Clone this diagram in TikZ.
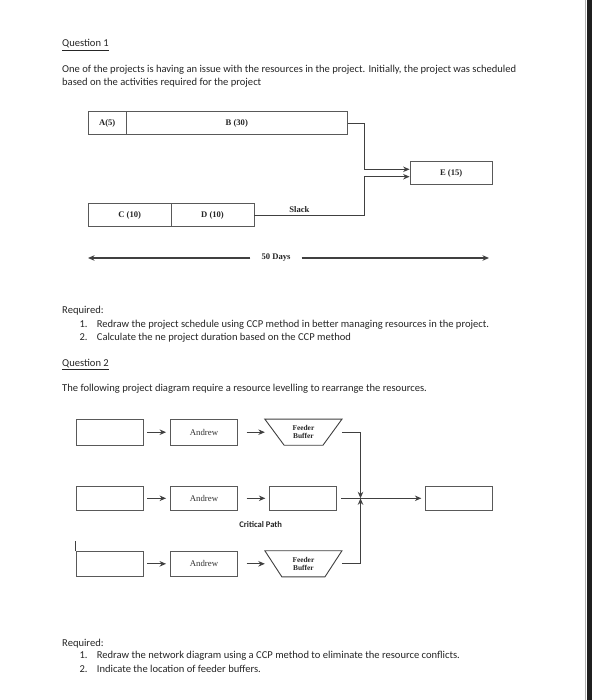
\documentclass[tikz,border=0pt]{standalone}
\usepackage{fontspec}
\setmainfont{Carlito}
\newfontfamily\tnr{Liberation Serif}
\usetikzlibrary{arrows.meta,calc}
\tikzset{
  body/.style={anchor=base west, inner sep=0pt, text=black!85, font=\fontsize{10.55}{12}\selectfont},
  bx/.style={draw=black!65, line width=0.9pt, inner sep=0pt, text=black!85, font=\tnr\bfseries\fontsize{8.6}{10}\selectfont},
  nb/.style={draw=black!65, line width=0.9pt, inner sep=0pt, minimum width=67pt, text=black!80, font=\tnr\fontsize{8.8}{10}\selectfont},
  fb/.style={inner sep=0pt, minimum width=76.7pt, minimum height=25.7pt, align=center, text=black!85, font=\tnr\bfseries\fontsize{7.4}{8.4}\selectfont},
  conn/.style={draw=black!75, line width=0.9pt},
  arr/.style={conn, -{Stealth[length=6.5pt,width=5.5pt]}},
  small/.style={inner sep=0pt, text=black!85}
}
\begin{document}
\begin{tikzpicture}[x=1pt,y=-1pt]
\useasboundingbox (0,0) rectangle (592,700);
\fill[white] (0,0) rectangle (592,700);
% right edge bar
\fill[black!88] (586.5,0) rectangle (592,700);
\draw[black!30, line width=0.8pt] (585.3,0) -- (585.3,700);

% ---------- Question 1 text ----------
\node[body] (q1) at (62,47) {\underline{Question 1}};
\node[body] (p1) at (62,72.5) {One of the projects is having an issue with the resources in the project. Initially, the project was scheduled};
\node[body] (p2) at (62,86) {based on the activities required for the project};

% ---------- Diagram 1 ----------
\node[bx, minimum width=37.7pt, minimum height=22.6pt] (A) at (107.2,123) {A(5)};
\node[bx, minimum width=221.7pt, minimum height=22.6pt] (B) at (236.8,123) {B (30)};
\node[bx, minimum width=82.3pt, minimum height=23pt] (E) at (451.2,173.2) {E (15)};
\node[bx, minimum width=82.7pt, minimum height=23.3pt] (C) at (129.7,215.3) {C (10)};
\node[bx, minimum width=83pt, minimum height=23.3pt] (D) at (212.5,215.3) {D (10)};
\coordinate (j1) at (364.3,169.3);
\coordinate (j2) at (364.3,176.7);
\draw[arr] (B.east) -| (j1) -- (E.west |- j1);
\draw[arr] (D.east) -- node[small, above=2.5pt, pos=0.41, font=\tnr\bfseries\fontsize{8.6}{10}\selectfont]{Slack} (D.east -| j2) -- (j2) -- (E.west |- j2);

\node[small, inner xsep=11pt, font=\tnr\bfseries\fontsize{8.6}{10}\selectfont] (days) at (276,258) {50 Days};
\coordinate (dl) at (88,258);
\coordinate (dr) at (489,258);
\draw[arr, line width=1.1pt] (days.west) -- (dl);
\draw[arr, line width=1.1pt] (days.east) -- (dr);

% ---------- Required 1 ----------
\node[body] (r1) at (62,313) {Required:};
\node[body] (r1n1) at (79.3,327) {1.};
\node[body] (r1t1) at (96.7,327) {Redraw the project schedule using CCP method in better managing resources in the project.};
\node[body] (r1n2) at (79.3,340) {2.};
\node[body] (r1t2) at (96.7,340) {Calculate the ne project duration based on the CCP method};

% ---------- Question 2 text ----------
\node[body] (q2) at (62,366) {\underline{Question 2}};
\node[body] (p3) at (62,391.5) {The following project diagram require a resource levelling to rearrange the resources.};

% ---------- Diagram 2 ----------
% row 1
\node[nb, minimum height=25.7pt] (b11) at (109.7,432.2) {};
\node[nb, minimum height=25.7pt] (a1) at (204,432.2) {Andrew};
\node[fb] (f1) at (303.4,432.2) {Feeder\\Buffer};
\draw[conn] (f1.north west) -- (f1.north east) -- ($(f1.south east)+(-19,0)$) -- ($(f1.south west)+(19.3,0)$) -- cycle;
% row 2
\node[nb, minimum height=24.7pt] (b21) at (109.7,498.3) {};
\node[nb, minimum height=24.7pt] (a2) at (204,498.3) {Andrew};
\node[nb, minimum height=24.7pt] (b23) at (303.3,498.3) {};
\node[nb, minimum height=24.7pt] (e2) at (459.3,498.3) {};
% row 3
\node[nb, minimum height=24.3pt] (b31) at (109.7,563.8) {};
\node[nb, minimum height=24.3pt] (a3) at (204,563.8) {Andrew};
\node[fb] (f3) at (303.4,563.8) {Feeder\\Buffer};
\draw[conn] (f3.north west) -- (f3.north east) -- ($(f3.south east)+(-17,0)$) -- ($(f3.south west)+(17,0)$) -- cycle;
\coordinate (b31top) at ($(b31.north west)+(0,-10)$);
\draw[conn] (b31.north west) -- (b31top);

% row arrows
\draw[arr, shorten <=3.4pt, shorten >=4pt] (b11.east) -- (a1.west);
\draw[arr, shorten <=8.7pt] (a1.east) -- (f1.west);
\draw[arr, shorten <=3.4pt, shorten >=4pt] (b21.east) -- (a2.west);
\draw[arr, shorten <=8.7pt, shorten >=4pt] (a2.east) -- (b23.west);
\draw[arr, line width=1.2pt, shorten <=3.4pt, shorten >=4pt] (b31.east) -- (a3.west);
\draw[arr, line width=1.2pt, shorten <=8.7pt] (a3.east) -- (f3.west);

% merge
\coordinate (J) at (360.5,498.3);
\draw[arr, line width=1.2pt] (f1.east) -| (J);
\draw[arr, line width=1.2pt] (f3.east) -| (J);
\draw[arr, shorten <=4pt, shorten >=4pt] (b23.east) -- (e2.west);

\node[small, font=\bfseries\fontsize{8.6}{10}\selectfont] (cp) at (260.7,525) {Critical Path};

% ---------- Required 2 ----------
\node[body] (r2) at (62,646.5) {Required:};
\node[body] (r2n1) at (79.3,658.5) {1.};
\node[body] (r2t1) at (96.7,658.5) {Redraw the network diagram using a CCP method to eliminate the resource conflicts.};
\node[body] (r2n2) at (79.3,672) {2.};
\node[body] (r2t2) at (96.7,672) {Indicate the location of feeder buffers.};
\end{tikzpicture}
\end{document}
